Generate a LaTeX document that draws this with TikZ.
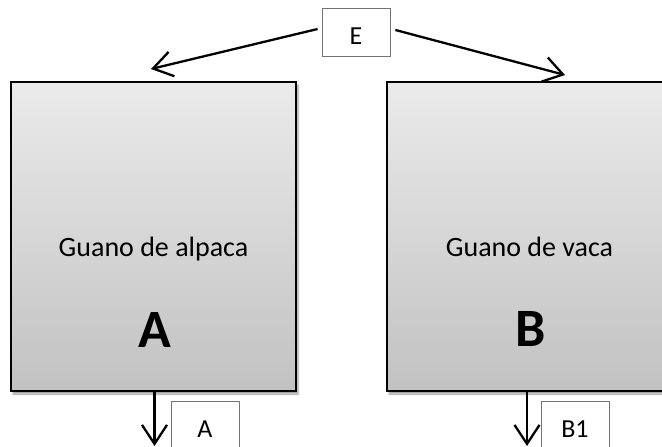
\documentclass[tikz,border=0pt]{standalone}
\usepackage{fontspec}
\setmainfont{Carlito}
\usepackage{tikz}
\usetikzlibrary{arrows.meta, shadows.blur}

\begin{document}
\begin{tikzpicture}[x=1pt, y=-1pt,
        pile/.style={draw=black, line width=2pt, top color=gray!16, bottom color=gray!48, minimum width=285pt, minimum height=309pt, inner sep=0pt, blur shadow={shadow xshift=2pt, shadow yshift=-3pt, shadow blur steps=6}},
        tag/.style={draw=gray!90!black, line width=0.8pt, fill=white, minimum width=68pt, minimum height=48pt, text height=24.5pt, text depth=0pt, font=\fontsize{26}{30}\selectfont},
        flow/.style={line width=2.3pt, -{Straight Barb[length=19pt, width=25pt, line width=2.3pt]}}]
        \useasboundingbox (0,0) rectangle (662,447);

        % Piles
        \node[pile] (alpaca) at (153.5,236.5) {};
        \node[pile] (vaca) at (529.5,236.5) {};

        % Texts in the piles
        \node[anchor=base, font=\fontsize{28}{32}\selectfont] (alpacaname) at (153.5,256) {Guano de alpaca};
        \node[anchor=base, font=\fontsize{28}{32}\selectfont] (vacaname) at (529.5,256) {Guano de vaca};
        \node[anchor=base, font=\bfseries\fontsize{54}{58}\selectfont] (alpacaletter) at (154.5,347) {A};
        \node[anchor=base, font=\bfseries\fontsize{54}{58}\selectfont] (vacaletter) at (530.5,346) {B};

        % Input and outputs
        \node[tag] (E) at (356,32.5) {E};
        \node[tag] (outA) at (205,425) {A};
        \node[tag] (outB) at (575,425) {B1};

        % Arrows
        \coordinate (inA) at (151,69);
        \coordinate (inB) at (565,75);
        \coordinate (endA) at (154.5,446);
        \coordinate (endB) at (527,446);
        \draw[flow] ([shift={(-4,-3.5)}]E.west) -- (inA);
        \draw[flow] ([shift={(5,-2.5)}]E.east) -- (inB);
        \draw[flow] ([xshift=1pt]alpaca.south) -- (endA);
        \draw[flow] ([xshift=-2.5pt]vaca.south) -- (endB);

    \end{tikzpicture}
\end{document}
